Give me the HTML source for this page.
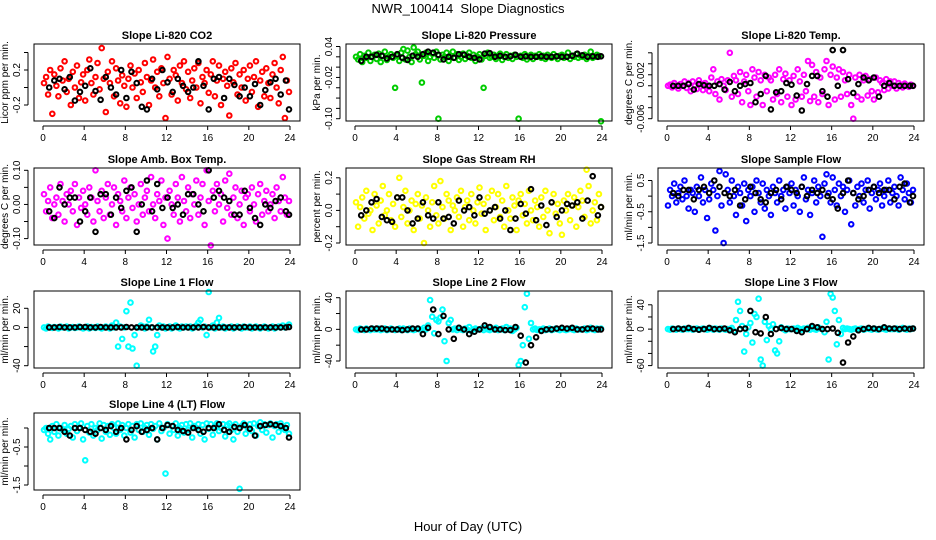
<!DOCTYPE html>
<html><head><meta charset="utf-8"><style>
html,body{margin:0;padding:0;background:#fff;}
svg{display:block;font-family:"Liberation Sans",sans-serif;}
</style></head><body>
<svg id="fig" width="936" height="540" viewBox="0 0 936 540" xmlns="http://www.w3.org/2000/svg">
<rect x="0" y="0" width="936" height="540" fill="#fff"/>
<text x="468" y="13" text-anchor="middle" font-size="13" style="white-space:pre">NWR_100414  Slope Diagnostics</text>
<text x="468" y="531" text-anchor="middle" font-size="13">Hour of Day (UTC)</text>
</svg>
<script>
const timesAll = [0.1,0.3,0.5,0.7,0.9,1.1,1.3,1.5,1.7,1.9,2.1,2.3,2.5,2.7,2.9,3.1,3.3,3.5,3.7,3.9,4.1,4.3,4.5,4.7,4.9,5.1,5.3,5.5,5.7,5.9,6.1,6.3,6.5,6.7,6.9,7.1,7.3,7.5,7.7,7.9,8.1,8.3,8.5,8.7,8.9,9.1,9.3,9.5,9.7,9.9,10.1,10.3,10.5,10.7,10.9,11.1,11.3,11.5,11.7,11.9,12.1,12.3,12.5,12.7,12.9,13.1,13.3,13.5,13.7,13.9,14.1,14.3,14.5,14.7,14.9,15.1,15.3,15.5,15.7,15.9,16.1,16.3,16.5,16.7,16.9,17.1,17.3,17.5,17.7,17.9,18.1,18.3,18.5,18.7,18.9,19.1,19.3,19.5,19.7,19.9,20.1,20.3,20.5,20.7,20.9,21.1,21.3,21.5,21.7,21.9,22.1,22.3,22.5,22.7,22.9,23.1,23.3,23.5,23.7,23.9];
const timesRef = [0.6,1.1,1.6,2.1,2.6,3.1,3.6,4.1,4.6,5.1,5.6,6.1,6.6,7.1,7.6,8.1,8.6,9.1,9.6,10.1,10.6,11.1,11.6,12.1,12.6,13.1,13.6,14.1,14.6,15.1,15.6,16.1,16.6,17.1,17.6,18.1,18.6,19.1,19.6,20.1,20.6,21.1,21.6,22.1,22.6,23.1,23.6,23.9];
const xTicks = [0,4,8,12,16,20,24];

const co2 = [0.05,0.12,-0.08,0.2,-0.3,0.15,0.02,-0.1,0.22,0.08,0.3,-0.05,0.1,-0.2,0.18,0.0,0.25,-0.12,0.06,0.15,-0.15,0.2,0.32,0.05,-0.08,0.12,0.28,-0.02,0.45,0.1,-0.28,0.18,0.05,0.3,-0.1,0.22,0.08,-0.18,0.14,0.02,-0.22,0.1,0.25,0.0,0.16,-0.12,0.2,0.06,-0.05,0.28,0.12,-0.2,0.08,0.32,0.0,0.18,-0.1,0.22,0.05,-0.35,0.35,0.1,-0.08,0.2,0.14,-0.15,0.25,0.05,0.3,-0.02,0.18,-0.12,0.08,0.22,0.0,0.28,-0.18,0.12,0.05,0.2,-0.06,0.15,0.3,-0.1,0.08,0.25,-0.2,0.1,0.18,0.02,-0.32,0.22,0.06,0.28,-0.08,0.15,0.0,0.2,-0.15,0.1,0.25,-0.05,0.12,0.3,-0.22,0.08,0.18,-0.1,0.22,0.05,-0.12,0.15,0.28,0.0,-0.18,0.2,0.35,-0.35,0.08,-0.05];
const co2Ref = [0.0,0.08,0.1,-0.02,0.12,-0.15,-0.05,0.02,0.22,-0.04,-0.14,0.12,0.0,-0.08,0.2,-0.12,0.18,0.05,-0.22,-0.25,0.1,-0.02,0.2,0.06,-0.05,0.1,0.02,-0.05,0.0,0.3,0.02,-0.25,0.1,0.12,-0.12,0.1,0.03,-0.1,0.0,-0.1,0.04,-0.2,-0.03,0.06,0.1,-0.08,0.08,-0.25];

const pres = [0.02,0.015,0.025,0.01,0.022,0.018,0.028,0.012,0.02,0.024,0.016,0.026,0.01,0.022,0.03,0.014,0.02,0.025,0.018,-0.04,0.022,0.012,0.028,0.035,0.015,0.032,0.02,0.01,0.038,0.025,0.03,0.015,-0.03,0.022,0.028,0.012,0.02,0.026,0.018,0.03,-0.1,0.015,0.024,0.02,0.028,0.012,0.022,0.03,0.018,0.025,0.014,0.02,0.026,0.016,0.022,0.028,0.018,0.024,0.012,0.02,0.025,0.015,-0.04,0.022,0.028,0.018,0.02,0.024,0.016,0.022,0.026,0.014,0.02,0.025,0.018,0.022,0.016,0.024,0.02,-0.1,0.022,0.018,0.025,0.015,0.02,0.024,0.016,0.022,0.02,0.025,0.018,0.022,0.016,0.024,0.02,0.018,0.025,0.02,0.016,0.022,0.024,0.018,0.02,0.028,0.016,0.022,0.02,0.025,0.018,0.022,0.02,0.024,0.016,0.022,0.03,0.018,0.02,0.024,0.022,-0.105];
const presRef = [0.012,0.02,0.02,0.024,0.022,0.017,0.02,0.025,0.018,0.014,0.022,0.02,0.025,0.03,0.028,0.024,0.015,0.02,0.018,0.025,0.024,0.02,0.018,0.015,0.026,0.027,0.02,0.022,0.02,0.021,0.024,0.02,0.021,0.02,0.02,0.021,0.02,0.02,0.021,0.02,0.02,0.022,0.026,0.023,0.02,0.021,0.02,0.021];

const ltemp = [0,0.0002,-0.0003,0.0005,0,-0.0005,0.0003,0,0.0008,-0.0004,0.0005,-0.001,0.0008,0,-0.0006,0.001,0.0003,-0.0008,0.0005,0,-0.001,0.0015,0.003,-0.0015,0.0008,-0.0025,0.0012,0,-0.0008,0.001,0.006,-0.002,0.0018,0.001,-0.0015,0.0025,-0.003,0.0008,0.002,-0.001,-0.0035,0.003,0.0015,-0.002,0.0025,0.001,-0.0035,0.002,-0.001,0.0015,0.001,-0.0025,0.002,-0.0015,0.003,-0.003,0.0012,0.0022,-0.002,0.001,-0.0035,0.0018,-0.0025,0.003,0.0008,-0.002,0.002,-0.001,0.0045,-0.0028,0.0038,-0.002,0.0025,-0.003,0.0015,-0.0015,0.003,0.0045,-0.0035,0.002,0.0035,-0.0025,0.0015,0.003,-0.002,0.0025,0.001,-0.0015,0.002,-0.0035,-0.006,0.0015,-0.002,0.002,-0.0025,0.001,0.0018,-0.0018,0.0012,-0.001,-0.0025,0.0015,-0.0012,0.001,0.0005,-0.0008,0.0012,-0.0005,0.0008,0,0.0008,-0.0005,0.0005,0,-0.0003,0.0004,0,-0.0002,0.0002,0];
const ltempRef = [0,0,0,0.0003,-0.0007,0.0003,0.0001,0,0,0.0003,-0.0007,0.0007,-0.001,0,0.0003,0.0005,-0.003,-0.0015,0.0018,-0.0043,-0.0012,-0.001,0.0005,0.0002,-0.0018,-0.0045,0.0003,0.0018,0.0018,-0.001,-0.002,0.0065,0,0.0065,0.0012,-0.0013,0.0003,0.0015,0.001,0.0015,-0.002,0,0.0005,0,0,0,0,0];

const amb = [0.03,-0.02,0.01,0.05,-0.04,0.0,0.02,-0.03,0.06,0.01,-0.05,0.03,0.0,0.04,-0.02,0.06,-0.06,0.02,-0.01,0.04,0.0,-0.03,0.05,0.02,-0.05,0.1,0.01,-0.02,0.04,-0.04,0.02,0.06,-0.03,0.0,0.05,-0.06,0.03,0.01,-0.02,0.07,-0.04,0.02,0.05,-0.01,0.03,-0.05,0.0,0.06,-0.03,0.02,0.04,-0.02,0.08,0.0,-0.04,0.03,0.01,0.07,-0.06,0.02,-0.1,0.04,0.0,-0.03,0.06,0.02,-0.05,0.08,0.01,-0.02,0.05,-0.04,0.03,0.0,0.07,-0.03,0.02,0.06,-0.06,0.1,0.01,-0.12,0.04,-0.02,0.06,0.0,0.03,-0.05,0.07,-0.01,0.09,-0.03,0.02,0.05,-0.04,0.0,0.04,-0.06,0.02,0.03,-0.02,0.05,0.0,-0.05,0.03,0.06,-0.03,0.01,0.04,-0.02,0.0,0.03,-0.04,0.05,0.01,-0.02,0.08,0.02,-0.03,0.01];
const ambRef = [-0.02,-0.04,0.05,0.0,0.02,0.02,-0.05,-0.02,0.02,-0.08,0.03,0.03,-0.03,0.02,-0.01,0.04,0.05,-0.08,0.0,0.07,-0.02,0.06,-0.01,0.02,-0.01,0.0,-0.03,0.03,0.03,0.0,-0.02,0.1,0.02,0.04,0.02,0.01,-0.03,-0.03,0.04,-0.01,-0.04,-0.06,0.0,-0.01,0.01,0.02,-0.02,-0.03];

const rh = [0.05,-0.1,0.02,0.08,-0.05,0.12,-0.02,0.0,-0.12,0.1,0.03,-0.08,0.06,0.15,-0.03,0.0,0.1,-0.06,0.04,-0.1,0.08,0.2,-0.04,0.02,0.12,-0.08,0.0,0.06,-0.12,0.04,0.1,-0.05,0.03,-0.2,0.08,0.0,-0.1,0.05,0.15,-0.03,-0.08,0.18,0.02,-0.05,0.1,0.06,-0.12,0.03,0.0,0.08,-0.04,0.12,-0.1,0.02,0.06,-0.06,0.1,0.0,-0.08,0.05,0.14,-0.02,0.04,-0.12,0.08,0.0,0.12,-0.06,0.02,0.1,-0.04,0.06,-0.1,0.15,0.0,-0.05,0.08,0.03,-0.12,0.06,0.1,-0.03,0.04,-0.08,0.12,0.0,-0.06,0.06,0.02,-0.1,0.08,-0.04,0.12,0.0,-0.14,0.05,0.1,-0.02,0.04,-0.08,-0.15,0.06,0.0,0.1,-0.06,0.03,0.08,-0.1,0.02,0.12,0.06,-0.04,0.25,0.15,-0.08,0.0,0.05,-0.06,0.1,0.02];
const rhRef = [-0.03,0.0,0.05,0.07,-0.04,-0.06,-0.07,0.08,0.08,0.0,-0.08,-0.05,0.05,-0.03,-0.05,0.05,-0.05,-0.04,-0.08,0.06,0.0,0.02,-0.03,0.08,-0.02,0.0,0.02,-0.05,0.0,-0.12,-0.05,0.04,-0.02,0.13,-0.06,0.03,-0.09,0.05,-0.04,0.0,0.04,0.03,0.05,-0.05,0.06,0.21,-0.03,0.02];

const sflow = [-0.3,0.2,0.0,0.4,-0.2,0.1,0.3,-0.1,0.5,0.0,-0.4,0.2,0.1,-0.5,0.3,0.0,0.6,-0.2,0.2,-0.7,-0.1,0.4,0.2,-1.1,0.0,0.8,-0.3,-1.5,0.7,0.2,-0.2,0.5,0.0,-0.6,0.3,0.1,-0.3,0.4,-0.8,0.2,0.0,0.3,-0.5,0.5,0.1,-0.2,0.4,-0.4,0.2,0.0,-0.6,0.3,0.1,-0.2,0.5,0.0,0.2,-0.4,0.3,0.1,0.4,-0.3,0.2,0.0,-0.5,0.3,0.6,-0.1,0.2,-0.6,0.1,0.5,-0.2,0.3,0.0,-1.3,0.4,0.7,0.1,-0.2,0.6,0.2,-0.3,0.4,0.0,0.3,-0.5,0.2,0.5,-0.9,0.1,-0.3,0.3,0.0,0.4,-0.2,0.2,0.5,-0.4,0.1,0.3,-0.1,0.2,0.4,-0.3,0.0,0.2,0.5,-0.2,0.1,0.3,0.0,-0.3,0.6,0.2,-0.1,0.4,0.1,-0.2,0.2];
const sflowRef = [0.1,0.0,0.2,0.2,-0.1,0.2,0.3,0.1,0.5,0.3,0.1,0.0,0.2,-0.3,-0.1,0.3,0.1,-0.1,-0.2,0.1,0.2,-0.1,0.3,0.2,0.1,0.3,0.0,0.2,0.1,0.2,0.0,-0.1,-0.4,0.1,0.5,0.1,-0.1,0.0,0.2,0.3,0.1,0.2,0.2,-0.1,0.3,0.4,-0.2,0.0];

const line1 = [0,-1,1,0,-0.5,0.5,0,-1,1,0,0,1,-1,0,0.5,-0.5,0,1,0,-1,0,1,-1,0.5,0,-0.5,1,0,-1,0,1,0,-1,2,0,5,-20,1,-12,0,17,-20,26,-22,-8,-40,0,2,1,-1,1,8,0,-25,-20,-8,2,0,1,-1,0,1,-1,0,2,0,-1,1,0,1,0,1,-1,0,2,5,8,0,1,-8,37,0,2,-1,5,10,0,1,-1,0,0,1,-1,0,1,0,-1,1,0,0,1,-1,0,1,0,-1,0,1,0,-1,0,1,-1,0,1,0,2,0,1,3];
const line1Ref = [0,0,0.5,0,0,0,0.5,0.5,0,0,0.5,0,0,0,0,0.5,0,0,0,0,0,0,0,0,0,0.5,0,0,0,0,0.5,0,0,0,0,0,0,0,0.5,0,0,0,0,0,0,0,0,0.5];

const line2 = [0,-1,1,0,-1,1,0,-1,1,0,0,1,-1,0,1,-1,0,1,0,-1,0,1,-1,1,0,-1,1,0,-1,0,1,0,-1,2,0,5,37,16,-5,12,10,15,25,-15,-40,8,12,0,1,-1,2,0,-1,1,0,3,-2,0,1,0,0,1,-1,2,0,-1,1,0,2,-1,0,1,-1,3,0,1,-2,0,2,-45,-40,-20,28,45,-12,8,0,1,-1,0,0,1,-1,0,1,-1,0,1,0,-1,1,0,-1,0,1,0,-1,1,0,0,0,1,-1,0,2,0,-1,1,0,1];
const line2Ref = [0,0,1,1,1,0,0,0,-1,0,1,1,-6,2,25,-6,17,0,-12,2,0,-6,-3,0,5,3,0,0,-1,-1,3,-8,-42,-20,-10,-2,0,0,1,2,1,2,0,0,1,1,0,0];

const line3 = [0,-1,1,0,-1,1,0,-1,1,0,0,1,-1,0,1,-1,0,1,0,-1,0,1,-1,1,0,-1,1,0,-1,0,0,2,-3,15,45,30,5,-37,-8,3,10,-22,25,20,50,-50,-60,12,-18,5,0,8,-35,-40,-20,3,0,-2,1,0,0,1,-1,2,0,-1,1,0,2,-1,2,0,-1,3,1,0,-5,12,-50,58,52,30,-25,15,-8,2,0,1,0,-1,0,1,-1,0,1,-1,0,1,0,-1,1,0,-1,0,1,0,-1,1,0,0,0,1,-1,0,2,0,-1,1,0,1];
const line3Ref = [0,1,0,2,0,-1,0,2,0,0,1,-2,-5,0,1,30,-5,-7,20,-8,0,2,0,0,-3,-5,0,5,3,0,0,1,-6,-55,-22,-12,-2,0,2,1,0,3,1,1,0,1,0,1];

const line4 = [-0.05,0.0,-0.15,-0.3,0.05,-0.1,0.1,-0.2,0.0,-0.05,0.08,-0.15,-0.02,0.05,-0.25,0.1,-0.08,0.0,0.12,-0.3,-0.85,0.05,-0.12,0.1,-0.2,0.0,-0.05,0.12,-0.28,0.08,-0.1,0.05,-0.18,0.1,0.0,-0.15,0.12,-0.05,0.08,-0.2,0.0,0.1,-0.12,0.05,-0.25,0.1,-0.05,0.12,-0.1,0.0,0.08,-0.18,0.1,-0.02,0.05,-0.3,0.12,-0.08,0.0,-1.2,0.1,-0.15,0.05,-0.05,0.12,-0.2,0.0,0.08,-0.12,0.1,-0.05,0.12,-0.25,0.05,0.0,0.1,-0.15,0.08,-0.3,0.12,-0.02,0.1,-0.18,0.05,0.12,-0.08,0.0,0.1,-0.22,0.08,0.12,-0.05,-0.3,0.1,-0.1,-1.6,0.05,0.12,-0.15,0.0,0.1,-0.08,0.12,-0.2,0.05,0.15,-0.05,0.1,-0.12,0.08,0.12,-0.25,0.05,0.1,-0.1,0.12,0.0,-0.05,0.08,-0.15];
const line4Ref = [0.0,0.0,0.0,-0.1,-0.2,0.0,0.0,-0.05,-0.1,-0.15,0.0,-0.05,0.05,-0.1,0.0,-0.3,-0.05,0.05,-0.1,-0.05,0.0,-0.3,0.0,0.08,0.05,-0.05,-0.08,-0.12,0.0,-0.05,-0.1,0.0,0.0,0.1,-0.05,-0.1,0.03,0.0,0.08,-0.02,-0.2,0.05,0.08,0.1,0.08,0.05,0.0,-0.25];

const NS = "http://www.w3.org/2000/svg";
const svg = document.getElementById('fig');
const rowTops = [44, 168, 291, 413];
const BOXW = 266, BOXH = 77;

const panels = [
 {key:'co2', title:'Slope Li-820 CO2', ylab:'Licor ppm per min.', color:'#ff0000', col:0,row:0, vals:co2, ref:co2Ref, a:[0.2,70,-0.2,105], ticks:[-0.2,0,0.2,0.4], labs:['-0.2','','0.2','']},
 {key:'pressure', title:'Slope Li-820 Pressure', ylab:'kPa per min.', color:'#00cc00', col:1,row:0, vals:pres, ref:presRef, a:[0.04,46.5,-0.10,118.7], ticks:[0.04,0.02,0,-0.02,-0.04,-0.06,-0.08,-0.10], labs:['0.04','','','-0.02','','','','-0.10']},
 {key:'li820-temp', title:'Slope Li-820 Temp.', ylab:'degrees C per min.', color:'#ff00ff', col:2,row:0, vals:ltemp, ref:ltempRef, a:[0.006,52.8,-0.006,118.7], ticks:[0.006,0.004,0.002,0,-0.002,-0.004,-0.006], labs:['','','0.002','','','','-0.006']},
 {key:'amb-box-temp', title:'Slope Amb. Box Temp.', ylab:'degrees C per min.', color:'#ff00ff', col:0,row:1, vals:amb, ref:ambRef, a:[0.10,170.3,-0.10,238.6], ticks:[0.1,0.05,0,-0.05,-0.1], labs:['0.10','','0.00','','-0.10']},
 {key:'gas-rh', title:'Slope Gas Stream RH', ylab:'percent per min.', color:'#ffff00', col:1,row:1, vals:rh, ref:rhRef, a:[0.2,177.8,-0.2,243], ticks:[0.2,0.1,0,-0.1,-0.2], labs:['0.2','','0.0','','-0.2']},
 {key:'sample-flow', title:'Slope Sample Flow', ylab:'ml/min per min.', color:'#0000ff', col:2,row:1, vals:sflow, ref:sflowRef, a:[0.5,180.5,-1.5,243], ticks:[0.5,0,-0.5,-1,-1.5], labs:['0.5','','-0.5','','-1.5']},
 {key:'line1-flow', title:'Slope Line 1 Flow', ylab:'ml/min per min.', color:'#00ffff', col:0,row:2, vals:line1, ref:line1Ref, a:[20,308.3,-40,365.7], ticks:[20,0,-20,-40], labs:['20','0','','-40']},
 {key:'line2-flow', title:'Slope Line 2 Flow', ylab:'ml/min per min.', color:'#00ffff', col:1,row:2, vals:line2, ref:line2Ref, a:[40,297.7,-40,361], ticks:[40,20,0,-20,-40], labs:['40','','0','','-40']},
 {key:'line3-flow', title:'Slope Line 3 Flow', ylab:'ml/min per min.', color:'#00ffff', col:2,row:2, vals:line3, ref:line3Ref, a:[40,304.8,-60,365.6], ticks:[40,20,0,-20,-40,-60], labs:['40','','0','','','-60']},
 {key:'line4-flow', title:'Slope Line 4 (LT) Flow', ylab:'ml/min per min.', color:'#00ffff', col:0,row:3, vals:line4, ref:line4Ref, a:[-0.5,447,-1.5,485], ticks:[0,-0.5,-1,-1.5], labs:['','-0.5','','-1.5']}
];

function mk(tag, attrs, parent){
  const e = document.createElementNS(NS, tag);
  for (const k in attrs) e.setAttribute(k, attrs[k]);
  (parent||svg).appendChild(e);
  return e;
}

panels.forEach(p => {
  const left = 34 + p.col*312, top = rowTops[p.row], bottom = top + BOXH;
  const xs = h => left + 9 + h*(247/24);
  const ys = v => p.a[1] + (v - p.a[0])*(p.a[3]-p.a[1])/(p.a[2]-p.a[0]);
  const g = mk('g', {});
  
  

  const t = mk('text', {x: left + BOXW/2, y: top - 5, 'text-anchor':'middle', 'font-size':'11', 'font-weight':'bold'}, g);
  t.textContent = p.title;
  
  

  const pts = mk('g', {fill:'none', 'stroke-width':'2'}, g);
  
  
  const n = Math.min(timesAll.length, p.vals.length);
  for (let i = 0; i < n; i++) {
    const c = mk('circle', {cx: xs(timesAll[i]).toFixed(1), cy: ys(p.vals[i]).toFixed(1), r: 2.3, stroke: p.color}, pts);
    
    
  }
  const m = Math.min(timesRef.length, p.ref.length);
  for (let i = 0; i < m; i++) {
    const c = mk('circle', {cx: xs(timesRef[i]).toFixed(1), cy: ys(p.ref[i]).toFixed(1), r: 2.3, stroke: '#000'}, pts);
    
    
  }

  const box = mk('rect', {x:left, y:top, width:BOXW, height:BOXH, fill:'none', stroke:'#000', 'stroke-width':'1'}, g);
  
  

  const xa = mk('g', {stroke:'#000', 'stroke-width':'1'}, g);
  
  
  mk('line', {x1: xs(0), x2: xs(24), y1: bottom+5, y2: bottom+5}, xa);
  xTicks.forEach(h => {
    mk('line', {x1: xs(h), x2: xs(h), y1: bottom+5, y2: bottom+9}, xa);
    const tl = mk('text', {x: xs(h), y: bottom+20, 'text-anchor':'middle', 'font-size':'10', stroke:'none', fill:'#000'}, xa);
    tl.textContent = h;
    
    
  });

  const ya = mk('g', {stroke:'#000', 'stroke-width':'1'}, g);
  
  
  const yv = p.ticks.map(ys);
  mk('line', {x1:left-6, x2:left-6, y1: Math.min(...yv), y2: Math.max(...yv)}, ya);
  p.ticks.forEach((v, i) => {
    const y = ys(v);
    mk('line', {x1:left-10, x2:left-6, y1:y, y2:y}, ya);
    if (p.labs[i]) {
      const tl = mk('text', {x: left-14, y: y, 'text-anchor':'middle', 'font-size':'10', stroke:'none', fill:'#000', transform:`rotate(-90 ${left-14} ${y})`}, ya);
      tl.textContent = p.labs[i];
      
      
    }
  });
  const yl = mk('text', {x: left-26, y: top + BOXH/2, 'text-anchor':'middle', 'font-size':'10', fill:'#000', transform:`rotate(-90 ${left-26} ${top+BOXH/2})`}, g);
  yl.textContent = p.ylab;
  
  
});
</script>
</body></html>
